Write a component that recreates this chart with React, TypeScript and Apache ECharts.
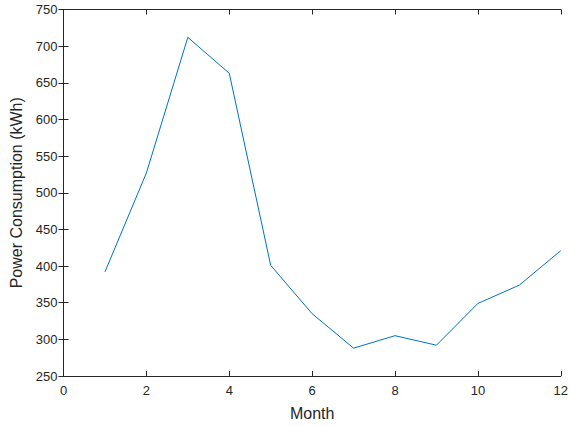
import React, { useEffect, useRef } from "react";
import * as echarts from "echarts";

const months = [1, 2, 3, 4, 5, 6, 7, 8, 9, 10, 11, 12];
const power = [392, 527, 712, 663, 401, 335, 288, 305, 292, 349, 374, 421];

const axisColor = "#262626";
const font = "'Liberation Sans', Arial, sans-serif";

export default function App() {
  const ref = useRef<HTMLDivElement>(null);
  useEffect(() => {
    if (!ref.current) return;
    const chart = echarts.init(ref.current, undefined, { renderer: "svg" });
    const boxAxis = {
      axisLine: { show: true, lineStyle: { color: axisColor, width: 1 } },
      axisTick: { show: true, inside: true, length: 5, lineStyle: { color: axisColor } },
      splitLine: { show: false },
    };
    chart.setOption({
      animation: false,
      backgroundColor: "#ffffff",
      grid: { left: 63.5, right: 8, top: 9.5, bottom: 48, containLabel: false },
      xAxis: [
        {
          type: "value",
          min: 0,
          max: 12,
          interval: 2,
          name: "Month",
          nameLocation: "middle",
          nameGap: 29,
          nameTextStyle: { color: axisColor, fontSize: 16, fontFamily: font },
          axisLabel: { color: axisColor, fontSize: 13, fontFamily: font, margin: 8 },
          ...boxAxis,
        },
        {
          type: "value",
          position: "top",
          min: 0,
          max: 12,
          interval: 2,
          axisLabel: { show: false },
          ...boxAxis,
        },
      ],
      yAxis: [
        {
          type: "value",
          min: 250,
          max: 750,
          interval: 50,
          name: "Power Consumption (kWh)",
          nameLocation: "middle",
          nameGap: 38,
          nameTextStyle: { color: axisColor, fontSize: 16, fontFamily: font },
          axisLabel: { color: axisColor, fontSize: 13, fontFamily: font, margin: 6 },
          ...boxAxis,
        },
        {
          type: "value",
          position: "right",
          min: 250,
          max: 750,
          interval: 50,
          axisLabel: { show: false },
          ...boxAxis,
        },
      ],
      series: [
        {
          type: "line",
          data: months.map((m, i) => [m, power[i]]),
          showSymbol: false,
          lineStyle: { color: "#0072bd", width: 1 },
          itemStyle: { color: "#0072bd" },
        },
      ],
    });
    return () => chart.dispose();
  }, []);
  return <div ref={ref} style={{ width: 571, height: 426, position: "absolute", left: 0, top: 0 }} />;
}
